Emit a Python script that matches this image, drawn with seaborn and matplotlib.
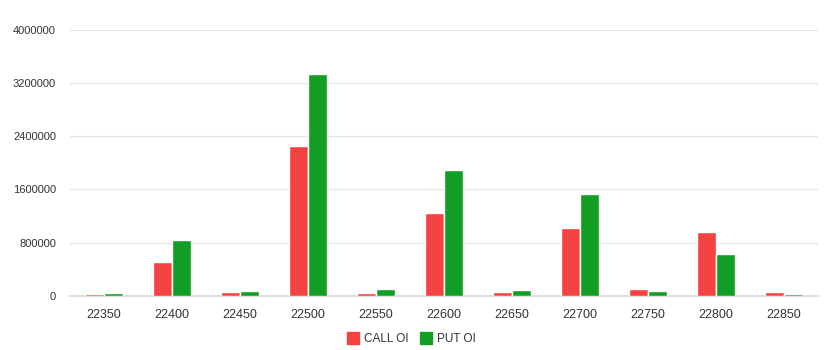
import numpy as np
import pandas as pd
import matplotlib
matplotlib.use("Agg")
import matplotlib.pyplot as plt
import seaborn as sns
from matplotlib.lines import Line2D

strikes = ["22350", "22400", "22450", "22500", "22550", "22600",
           "22650", "22700", "22750", "22800", "22850"]
call_oi = [30000, 505000, 55000, 2248000, 45000, 1246000, 60000, 1021000, 100000, 961000, 55000]
put_oi = [40000, 846000, 75000, 3334000, 105000, 1887000, 90000, 1537000, 70000, 626000, 25000]
series_names = ["CALL OI", "PUT OI"]
y_ticks = [0, 800000, 1600000, 2400000, 3200000, 4000000]

df = pd.DataFrame({
    "strike": strikes * 2,
    "oi": call_oi + put_oi,
    "series": [series_names[0]] * len(strikes) + [series_names[1]] * len(strikes),
})

sns.set_theme(style="white")
plt.rcParams['font.family'] = ['Liberation Sans', 'DejaVu Sans']

fig = plt.figure(figsize=(8.28, 3.5), dpi=100)
ax = fig.add_axes([70/828, 54/350, 748/828, (296-29.7)/350])

palette = {"CALL OI": "#f44242", "PUT OI": "#119e23"}
sns.barplot(data=df, x="strike", y="oi", hue="series", order=strikes,
            hue_order=series_names, palette=palette, width=0.56,
            edgecolor="white", linewidth=1, saturation=1, ax=ax, legend=False)
for p in ax.patches:
    p.set_zorder(3)

ax.set_ylim(0, 4000000)
ax.set_xlim(-0.5, len(strikes) - 0.5)
ax.set_yticks(y_ticks)
ax.set_yticklabels([str(v) for v in y_ticks], fontsize=8, color="#333333")
ax.yaxis.grid(True, color="#e6e6e6", linewidth=1)
ax.set_axisbelow(True)
ax.tick_params(axis="y", length=0, pad=10)
ax.tick_params(axis="x", which="major", length=0, pad=9, labelsize=9, labelcolor="#333333")
ax.set_xticks(np.arange(-0.5, len(strikes)), minor=True)
ax.tick_params(axis="x", which="minor", length=5, color="#dddddd", width=1)
for side in ["left", "right", "top"]:
    ax.spines[side].set_visible(False)
ax.spines["bottom"].set_color("#dddddd")
ax.spines["bottom"].set_linewidth(1.5)
ax.spines["bottom"].set_zorder(2)
ax.set_xlabel("")
ax.set_ylabel("")

handles = [Line2D([0], [0], marker="s", linestyle="none", markersize=8.5,
                  markerfacecolor=palette[n], markeredgecolor=palette[n]) for n in series_names]
fig.legend(handles, series_names, loc="center", bbox_to_anchor=(412/828, 1 - 339/350),
           ncol=2, frameon=False, fontsize=8.5, handletextpad=0.5, columnspacing=1.0,
           handlelength=0.9, labelcolor="#333333")

fig.savefig("out.png", dpi=100)
